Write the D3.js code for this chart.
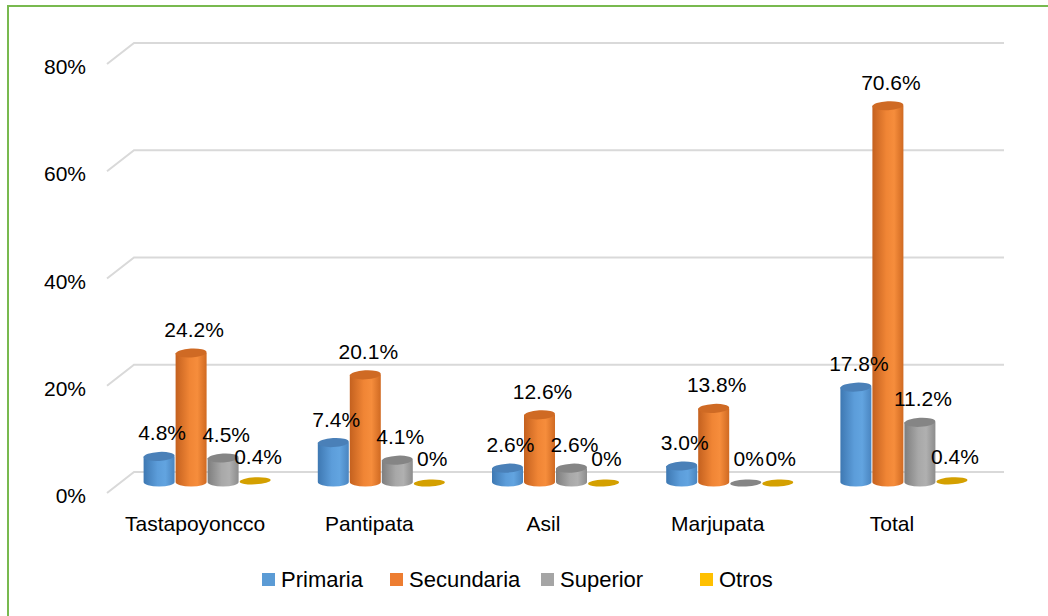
<!DOCTYPE html>
<html>
<head>
<meta charset="utf-8">
<script src="https://cdn.jsdelivr.net/npm/d3@7"></script>
<style>
html,body{margin:0;padding:0;background:#fff;}
svg{display:block;font-family:"Liberation Sans",Arial,sans-serif;}
</style>
</head>
<body>
<svg id="chart" width="1048" height="616"></svg>
<script>
const categories = ["Tastapoyoncco","Pantipata","Asil","Marjupata","Total"];
const seriesNames = ["Primaria","Secundaria","Superior","Otros"];
const primaria   = [4.8, 7.4, 2.6, 3.0, 17.8];
const secundaria = [24.2, 20.1, 12.6, 13.8, 70.6];
const superior   = [4.5, 4.1, 2.6, 0, 11.2];
const otros      = [0.4, 0, 0, 0, 0.4];
const yTicks = [0, 20, 40, 60, 80];
const tickLabels = ["0%","20%","40%","60%","80%"];

const seriesValues = [primaria, secundaria, superior, otros];
const legendColors = ["#5B9BD5","#ED7D31","#A5A5A5","#FFC000"];
const bodyStops = [
  ["#3E78B2","#5C9DDA","#62A4E0","#4A85C0"],
  ["#C4611F","#F08535","#F68D3C","#D06A22"],
  ["#7E7E7E","#A8A8A8","#B0B0B0","#8C8C8C"],
  ["#B88A00","#E2AE00","#E8B400","#C49400"]
];
const topColors = ["#4A80B8","#CF6A24","#858585","#D4A000"];

const svg = d3.select("#chart");
const defs = svg.append("defs");
bodyStops.forEach((s,i)=>{
  const g = defs.append("linearGradient").attr("id","g"+i).attr("x1","0%").attr("x2","100%").attr("y1","0%").attr("y2","0%");
  g.append("stop").attr("offset","0%").attr("stop-color",s[0]);
  g.append("stop").attr("offset","45%").attr("stop-color",s[1]);
  g.append("stop").attr("offset","70%").attr("stop-color",s[2]);
  g.append("stop").attr("offset","100%").attr("stop-color",s[3]);
});

// border
svg.append("rect").attr("x",8).attr("y",6).attr("width",1060).attr("height",640)
  .attr("fill","none").attr("stroke","#78B94F").attr("stroke-width",2);

// back wall scale and bar scale
const yBack = d3.scaleLinear().domain([0,80]).range([472,43]);
const depthX = 27, depthY = 21;
const yBar = d3.scaleLinear().domain([0,80]).range([482, 482 - 5.33*80]);

// gridlines
const grid = svg.append("g");
yTicks.forEach(t=>{
  const y = yBack(t);
  grid.append("path")
    .attr("d",`M107,${y+depthY} L${107+depthX},${y} L1004,${y}`)
    .attr("fill","none").attr("stroke","#D9D9D9").attr("stroke-width",2);
});

// y axis labels
svg.append("g").selectAll("text").data(yTicks).join("text")
  .attr("x",86).attr("y",(d)=>yBack(d)+depthY+10)
  .attr("text-anchor","end").attr("font-size",21).attr("fill","#000")
  .text((d,i)=>tickLabels[i]);

// x scales
const x0 = d3.scaleBand().domain(categories).range([120,991]);
const x1 = d3.scaleBand().domain(seriesNames).range([-64,64]);
const bw = 31, ry = 4.5;

const bars = svg.append("g");
categories.forEach((c,ci)=>{
  seriesNames.forEach((s,si)=>{
    const v = seriesValues[si][ci];
    const cx = x0(c) + x0.bandwidth()/2 + x1(s) + x1.bandwidth()/2;
    const yb = yBar(0), yt = yBar(v);
    const g = bars.append("g");
    if (v > 0.5) {
      g.append("path")
        .attr("d",`M${cx-bw/2},${yt} L${cx-bw/2},${yb} A${bw/2},${ry} 0 0 0 ${cx+bw/2},${yb} L${cx+bw/2},${yt} Z`)
        .attr("fill",`url(#g${si})`);
      g.append("ellipse").attr("cx",cx).attr("cy",yt).attr("rx",bw/2).attr("ry",ry)
        .attr("fill",topColors[si]).attr("transform",`rotate(-3,${cx},${yt})`);
    } else {
      g.append("ellipse").attr("cx",cx).attr("cy",yt+1).attr("rx",bw/2).attr("ry",3.5)
        .attr("fill",topColors[si]).attr("transform",`rotate(-3,${cx},${yt})`);
    }
  });
});

// data labels
const labels = svg.append("g").attr("font-size",21).attr("fill","#000").attr("text-anchor","middle");
categories.forEach((c,ci)=>{
  seriesNames.forEach((s,si)=>{
    const v = seriesValues[si][ci];
    const cx = x0(c) + x0.bandwidth()/2 + x1(s) + x1.bandwidth()/2;
    labels.append("text").attr("x",cx+3).attr("y",yBar(v)-16)
      .text(v===0 ? "0%" : v.toFixed(1)+"%");
  });
});

// category labels
svg.append("g").selectAll("text").data(categories).join("text")
  .attr("x",d=>x0(d)+x0.bandwidth()/2-12).attr("y",531)
  .attr("text-anchor","middle").attr("font-size",21).attr("fill","#000")
  .text(d=>d);

// legend
const legX = [262, 390, 541, 700];
const leg = svg.append("g");
seriesNames.forEach((s,i)=>{
  leg.append("rect").attr("x",legX[i]).attr("y",573).attr("width",13).attr("height",13).attr("fill",legendColors[i]);
  leg.append("text").attr("x",legX[i]+19).attr("y",587).attr("font-size",22).attr("fill","#000").text(s);
});
</script>
</body>
</html>
